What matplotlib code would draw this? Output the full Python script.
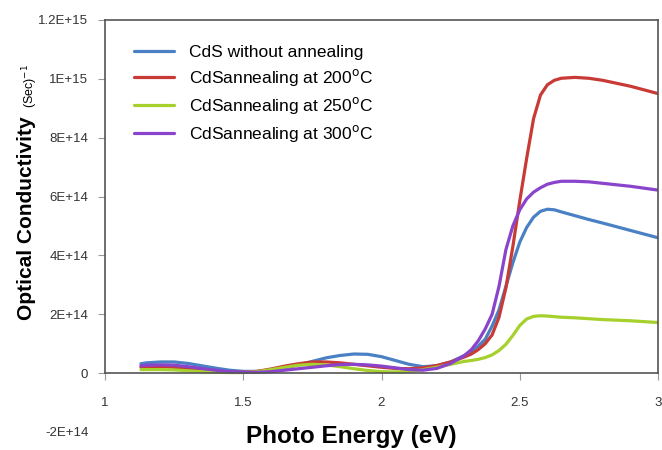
import numpy as np
import matplotlib.pyplot as plt

plt.rcParams['font.family'] = ['Liberation Sans', 'DejaVu Sans']

# Photon energy (eV) and conductivity values (units of 1e14 sec^-1)
energy = [1.13, 1.15, 1.2, 1.25, 1.3, 1.35, 1.4, 1.45, 1.5, 1.55, 1.6, 1.65, 1.7, 1.75,
          1.8, 1.85, 1.9, 1.95, 2.0, 2.05, 2.1, 2.15, 2.2, 2.25, 2.3,
          2.325, 2.35, 2.375, 2.4, 2.425, 2.45, 2.475, 2.5, 2.525, 2.55, 2.575, 2.6,
          2.625, 2.65,
          2.7, 2.75, 2.8, 2.9, 3.0]

cds_plain = [0.32, 0.35, 0.38, 0.38, 0.33, 0.25, 0.17, 0.10, 0.06, 0.06, 0.10, 0.18, 0.28, 0.40,
             0.52, 0.60, 0.65, 0.64, 0.56, 0.43, 0.30, 0.22, 0.25, 0.38, 0.60,
             0.75, 0.92, 1.15, 1.6, 2.15, 2.95, 3.75, 4.45, 4.95, 5.3, 5.5, 5.57, 5.55, 5.48,
             5.35, 5.22, 5.1, 4.85, 4.6]
cds_200 = [0.20, 0.21, 0.22, 0.20, 0.15, 0.10, 0.07, 0.04, 0.03, 0.06, 0.14, 0.24, 0.32, 0.38,
           0.38, 0.35, 0.30, 0.25, 0.20, 0.16, 0.15, 0.18, 0.26, 0.38, 0.55,
           0.65, 0.8, 1.0, 1.3, 1.9, 2.9, 4.3, 5.85, 7.3, 8.65, 9.45, 9.8, 9.95, 10.02,
           10.05, 10.02, 9.95, 9.75, 9.5]
cds_250 = [0.12, 0.12, 0.12, 0.11, 0.08, 0.05, 0.03, 0.02, 0.02, 0.05, 0.12, 0.20, 0.27, 0.30,
           0.28, 0.22, 0.15, 0.09, 0.05, 0.04, 0.06, 0.12, 0.20, 0.30, 0.40,
           0.43, 0.47, 0.53, 0.62, 0.77, 0.98, 1.28, 1.62, 1.84, 1.93, 1.95, 1.94, 1.92, 1.90,
           1.88, 1.85, 1.82, 1.78, 1.72]
cds_300 = [0.25, 0.27, 0.28, 0.27, 0.22, 0.16, 0.10, 0.05, 0.03, 0.03, 0.05, 0.10, 0.15, 0.20,
           0.25, 0.29, 0.30, 0.28, 0.24, 0.18, 0.12, 0.10, 0.16, 0.33, 0.60,
           0.8, 1.1, 1.5, 2.0, 2.95, 4.2, 5.0, 5.55, 5.92, 6.15, 6.3, 6.42, 6.48, 6.52,
           6.52, 6.5, 6.45, 6.35, 6.22]

labels = ['CdS without annealing',
          'CdSannealing at 200$^{\\mathrm{o}}$C',
          'CdSannealing at 250$^{\\mathrm{o}}$C',
          'CdSannealing at 300$^{\\mathrm{o}}$C']
colors = ['#4a80c4', '#c83a36', '#a6d02c', '#8a44cc']

yticks = [-2e14, 0, 2e14, 4e14, 6e14, 8e14, 1e15, 1.2e15]
yticklabels = ['-2E+14', '0', '2E+14', '4E+14', '6E+14', '8E+14', '1E+15', '1.2E+15']
xticks = [1, 1.5, 2, 2.5, 3]
xticklabels = ['1', '1.5', '2', '2.5', '3']

fig = plt.figure(figsize=(6.62, 4.5), dpi=100)
ax = fig.add_axes([105 / 662, 18 / 450, 553 / 662, 412 / 450])

x = np.array(energy)
for series, lab, col in zip([cds_plain, cds_200, cds_250, cds_300], labels, colors):
    ax.plot(x, np.array(series) * 1e14, color=col, linewidth=2.3, label=lab,
            solid_capstyle='round', solid_joinstyle='round')

ax.set_xlim(1, 3)
ax.set_ylim(-2e14, 1.2e15)

# Excel-style axes: x axis sits at y = 0, frame only above it
ax.spines['bottom'].set_position(('data', 0))
ax.spines['left'].set_bounds(0, 1.2e15)
ax.spines['right'].set_bounds(0, 1.2e15)
for s in ax.spines.values():
    s.set_color('#555555')
    s.set_linewidth(1.2)

ax.set_yticks(yticks)
ax.set_yticklabels(yticklabels)
ax.set_xticks(xticks)
ax.set_xticklabels(xticklabels)
ax.tick_params(axis='both', direction='out', length=5, color='#999999',
               labelsize=9.5, labelcolor='#333333', pad=7)
ax.tick_params(axis='x', pad=12)
ax.yaxis.get_major_ticks()[0].tick1line.set_visible(False)

fig.text(351 / 662, 1 - 436 / 450, 'Photo Energy (eV)', ha='center', va='center',
         fontsize=17.5, fontweight='bold')
fig.text(27 / 662, 1 - 218 / 450, 'Optical Conductivity', ha='center', va='center',
         rotation=90, fontsize=15, fontweight='bold')
fig.text(30 / 662, 1 - 86 / 450, '(Sec)$^{-1}$', ha='center', va='center',
         rotation=90, fontsize=9)

leg = ax.legend(loc='upper left', bbox_to_anchor=(0.025, 0.978), frameon=False,
                fontsize=12.5, handlelength=2.3, handletextpad=0.85, labelspacing=0.4)

fig.savefig('out.png', dpi=100)
